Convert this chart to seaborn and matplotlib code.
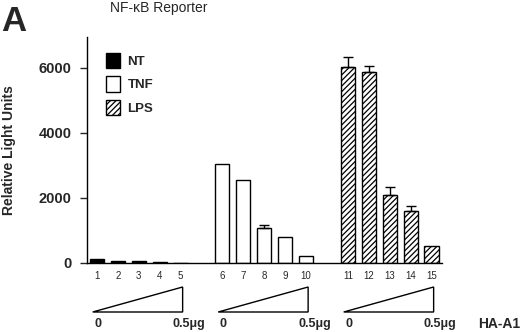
import matplotlib
matplotlib.use("Agg")
import matplotlib.pyplot as plt
import matplotlib.patches as mpatches
import matplotlib.transforms as mtransforms
import seaborn as sns
import pandas as pd
import numpy as np

# ---- data ----
lanes = ["1", "2", "3", "4", "5", "6", "7", "8", "9", "10", "11", "12", "13", "14", "15"]
treatments = ["NT"] * 5 + ["TNF"] * 5 + ["LPS"] * 5
values = [110, 70, 70, 30, 8, 3050, 2550, 1070, 790, 215, 6020, 5870, 2090, 1600, 530]
errors = [0, 0, 0, 0, 0, 0, 0, 100, 0, 0, 320, 170, 230, 160, 0]
slots = [0, 1, 2, 3, 4, 6, 7, 8, 9, 10, 12, 13, 14, 15, 16]
y_ticks = [0, 2000, 4000, 6000]
groups = ["NT", "TNF", "LPS"]
dose_labels = ["0", "0.5\u03bcg"]

df = pd.DataFrame({"slot": slots, "value": values, "treatment": treatments, "lane": lanes})

sns.set_theme(style="ticks")
plt.rcParams["font.family"] = ["Liberation Sans", "DejaVu Sans"]
plt.rcParams["hatch.linewidth"] = 0.9

fig = plt.figure(figsize=(5.2, 3.32), dpi=100)
ax = fig.add_axes([0.167, 0.208, 0.683, 0.681])

palette = {"NT": "black", "TNF": "white", "LPS": "white"}
sns.barplot(data=df, x="slot", y="value", hue="treatment", palette=palette,
            native_scale=True, dodge=False, width=0.68, errorbar=None,
            edgecolor="black", linewidth=1.0, legend=False, ax=ax)

# hatch the LPS bars
for bar in ax.patches:
    cx = bar.get_x() + bar.get_width() / 2
    idx = int(np.argmin([abs(cx - s) for s in slots]))
    if treatments[idx] == "LPS":
        bar.set_hatch("//////")

# error bars (upper only)
err = np.array(errors)
mask = err > 0
ax.errorbar(np.array(slots)[mask], np.array(values)[mask],
            yerr=[np.zeros(mask.sum()), err[mask]], fmt="none",
            ecolor="black", elinewidth=1.0, capsize=3.5, capthick=1.0)

ax.set_xlim(-0.48, 16.5)
ax.set_ylim(0, 6950)
ax.set_yticks(y_ticks)
ax.set_yticklabels([str(v) for v in y_ticks], fontsize=10.5, fontweight="bold")
ax.set_xticks(slots)
ax.set_xticklabels(lanes, fontsize=7)
ax.tick_params(axis="x", length=0, pad=6)
ax.tick_params(axis="y", length=5, width=1.0, direction="out", pad=6)
ax.set_xlabel("")
ax.set_ylabel("Relative Light Units", fontsize=10, fontweight="bold")
ax.yaxis.set_label_coords(-0.2, 0.5)
for s in ["top", "right"]:
    ax.spines[s].set_visible(False)
for s in ["left", "bottom"]:
    ax.spines[s].set_linewidth(1.0)
    ax.spines[s].set_color("black")

# legend
handles = [mpatches.Patch(facecolor=palette[g], edgecolor="black",
                          hatch="//////" if g == "LPS" else None, label=g) for g in groups]
leg = ax.legend(handles=handles, loc="upper left", bbox_to_anchor=(0.02, 0.98),
                frameon=False, handlelength=1.1, handleheight=1.4, handletextpad=0.55,
                labelspacing=0.6, prop={"weight": "bold", "size": 9.5})

# dose triangles under each group
trans = mtransforms.blended_transform_factory(ax.transData, fig.transFigure)
for g in range(3):
    gs = [s for s, t in zip(slots, treatments) if t == groups[g]]
    x0 = gs[0] - 0.2
    x1 = gs[-1] + 0.1
    y_base = 1 - 312 / 332
    y_top = 1 - 287 / 332
    tri = plt.Polygon([[x0, y_base], [x1, y_base], [x1, y_top]], closed=True,
                      fill=False, edgecolor="black", linewidth=1.0,
                      transform=trans, clip_on=False)
    fig.add_artist(tri)
    fig.text(gs[0] + 0.05, 1 - 324 / 332, dose_labels[0], transform=trans, ha="center",
             va="center", fontsize=9, fontweight="bold")
    fig.text(x1 + 0.3, 1 - 324 / 332, dose_labels[1], transform=trans, ha="center",
             va="center", fontsize=9, fontweight="bold")
fig.text(478 / 520, 1 - 324 / 332, "HA-A1", ha="left", va="center", fontsize=10,
         fontweight="bold")

fig.text(0.305, 0.977, "NF-\u03baB Reporter", ha="center", va="center", fontsize=10)
fig.text(0.002, 0.936, "A", ha="left", va="center", fontsize=25, fontweight="bold")

fig.savefig("out.png", dpi=100)
